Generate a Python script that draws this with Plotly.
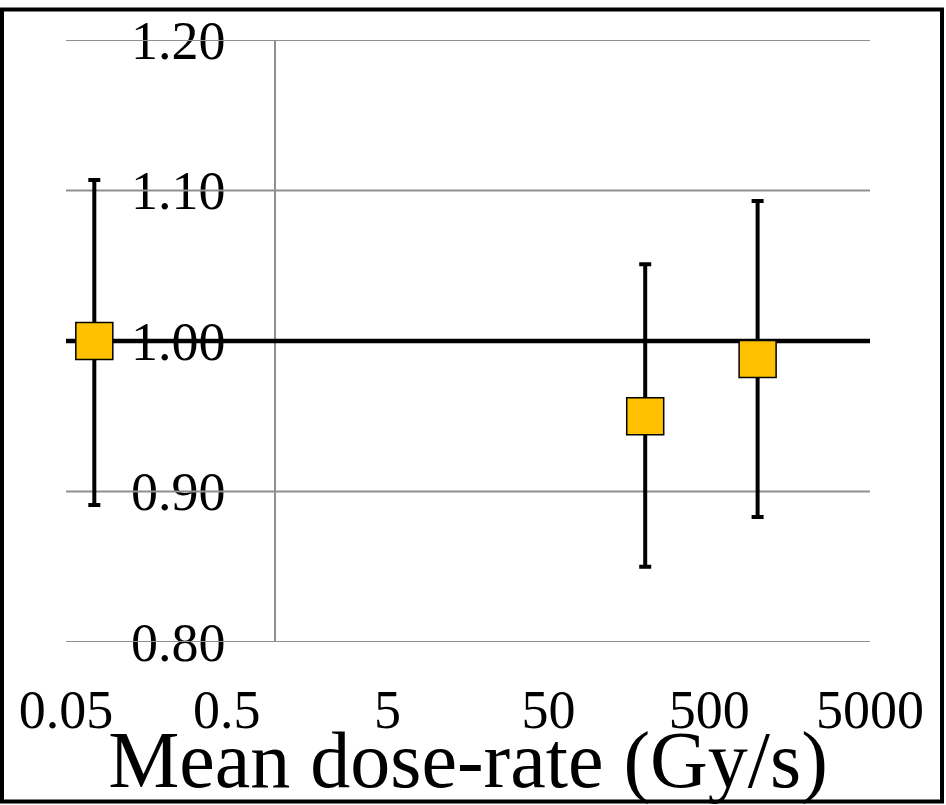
import math
import plotly.graph_objects as go

# ---- data ----
dose_rate = [0.075, 200, 1000]            # Mean dose-rate (Gy/s)
ratio = [1.000, 0.950, 0.988]             # relative value
err_plus = [0.107, 0.101, 0.105]
err_minus = [0.109, 0.100, 0.105]

x_ticks = [0.05, 0.5, 5, 50, 500, 5000]
x_tick_labels = ["0.05", "0.5", "5", "50", "500", "5000"]
y_ticks = [0.80, 0.90, 1.00, 1.10, 1.20]
y_tick_labels = ["0.80", "0.90", "1.00", "1.10", "1.20"]
reference_level = 1.00
y_axis_cross = 1.0                          # vertical axis crosses x at 1

x_min, x_max = x_ticks[0], x_ticks[-1]
FONT = "Liberation Serif"
GRID = "#8f8f8f"

fig = go.Figure()

# horizontal gridlines (as traces so they sit above the tick labels)
for yv in y_ticks:
    fig.add_trace(go.Scatter(x=[x_min, x_max], y=[yv, yv], mode="lines",
                             line=dict(color=GRID, width=2),
                             hoverinfo="skip", showlegend=False))

# reference line at 1.00
fig.add_trace(go.Scatter(x=[x_min, x_max], y=[reference_level, reference_level],
                         mode="lines", line=dict(color="black", width=4.5),
                         hoverinfo="skip", showlegend=False))

# data points with error bars
fig.add_trace(go.Scatter(
    x=dose_rate, y=ratio, mode="markers",
    marker=dict(symbol="square", size=37, color="#FFC000",
                line=dict(color="black", width=1.5)),
    error_y=dict(type="data", symmetric=False, array=err_plus,
                 arrayminus=err_minus, color="black", thickness=4, width=6),
    showlegend=False, cliponaxis=False))

axis_pos = (math.log10(y_axis_cross) - math.log10(x_min)) / (math.log10(x_max) - math.log10(x_min))

fig.update_layout(
    width=946, height=805,
    margin=dict(l=66, r=76, t=40, b=163),
    paper_bgcolor="white", plot_bgcolor="white",
    font=dict(family=FONT, color="black"),
    xaxis=dict(type="log", range=[math.log10(x_min), math.log10(x_max)],
               tickvals=x_ticks, ticktext=x_tick_labels,
               tickfont=dict(size=54, family=FONT),
               showgrid=False, showline=False, zeroline=False,
               ticks="outside", ticklen=0, ticklabelstandoff=20,
               automargin=False,
               title=dict(text="Mean dose-rate (Gy/s)",
                          font=dict(size=80, family=FONT), standoff=2)),
    yaxis=dict(range=[y_ticks[0], y_ticks[-1]],
               tickvals=y_ticks, ticktext=y_tick_labels,
               tickfont=dict(size=54, family=FONT),
               showgrid=False, zeroline=False,
               showline=True, linecolor=GRID, linewidth=2,
               anchor="free", position=axis_pos,
               ticks="outside", ticklen=0, ticklabelstandoff=38,
               automargin=False, layer="below traces"),
    shapes=[dict(type="rect", xref="paper", yref="paper",
                 x0=-64/804, x1=876/804, y0=-159.5/602, y1=1 + 30.5/602,
                 line=dict(color="black", width=4), fillcolor="rgba(0,0,0,0)",
                 layer="above")],
)

fig.write_html("out.html",
               config={"displayModeBar": False},
               post_script="document.body.style.margin='0';document.body.style.overflow='hidden';")
